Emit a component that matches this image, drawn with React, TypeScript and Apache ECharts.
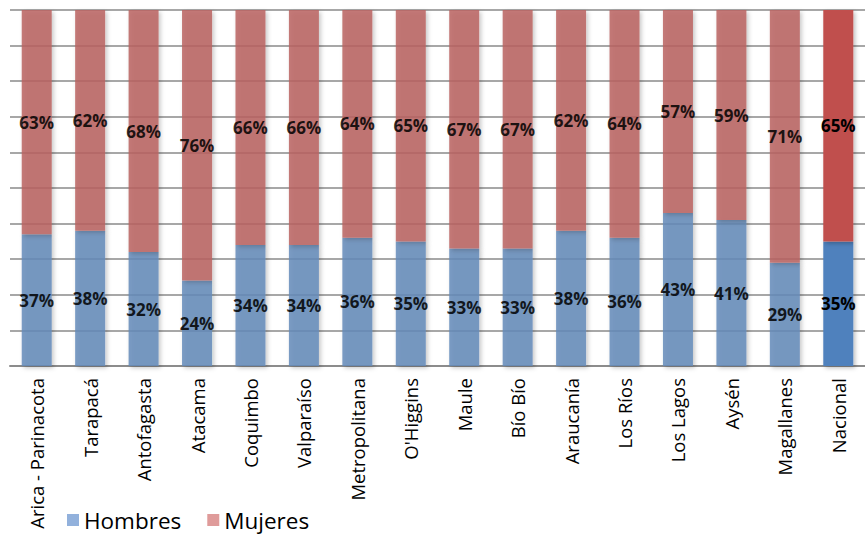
import React, { useEffect, useRef } from "react";
import * as echarts from "echarts";

const categories = [
  "Arica - Parinacota",
  "Tarapacá",
  "Antofagasta",
  "Atacama",
  "Coquimbo",
  "Valparaíso",
  "Metropolitana",
  "O'Higgins",
  "Maule",
  "Bío Bío",
  "Araucanía",
  "Los Ríos",
  "Los Lagos",
  "Aysén",
  "Magallanes",
  "Nacional",
];
const hombres = [37, 38, 32, 24, 34, 34, 36, 35, 33, 33, 38, 36, 43, 41, 29, 35];
const mujeres = [63, 62, 68, 76, 66, 66, 64, 65, 67, 67, 62, 64, 57, 59, 71, 65];

const HOMBRES_COLOR = "rgb(100,139,186)";
const MUJERES_COLOR = "rgb(186,99,96)";
const NAC_H = "#4f81bd";
const NAC_M = "#c0504d";

export default function App() {
  const ref = useRef<HTMLDivElement>(null);
  useEffect(() => {
    if (!ref.current) return;
    const chart = echarts.init(ref.current, null, { renderer: "svg" });
    const last = categories.length - 1;
    const mk = (vals: number[], nacColor: string) =>
      vals.map((v, i) =>
        i === last ? { value: v, itemStyle: { color: nacColor, opacity: 1 } } : v
      );
    const labelCfg = {
      show: true,
      position: "inside",
      formatter: "{c}%",
      color: "#000",
      fontFamily: "Open Sans",
      fontWeight: "bold",
      fontSize: 17,
    };
    const itemShadow = {
      shadowBlur: 4,
      shadowColor: "rgba(0,0,0,0.25)",
      shadowOffsetX: 2,
      shadowOffsetY: 2,
    };
    chart.setOption({
      animation: false,
      textStyle: { fontFamily: "Open Sans" },
      grid: { left: 10, top: 10, width: 867, bottom: 169, containLabel: false },
      legend: {
        left: 62,
        top: 502,
        itemWidth: 12,
        itemHeight: 12,
        itemGap: 26,
        icon: "rect",
        textStyle: { fontSize: 22.5, lineHeight: 26, color: "#000", fontFamily: "Open Sans" },
        data: [
          { name: "Hombres", itemStyle: { color: "#7fa3d6" } },
          { name: "Mujeres", itemStyle: { color: "#d98a88" } },
        ],
      },
      xAxis: {
        type: "category",
        data: categories,
        axisLine: { lineStyle: { color: "#8c8c8c", width: 2 } },
        axisTick: { show: false },
        axisLabel: {
          rotate: 90,
          interval: 0,
          margin: 12,
          fontSize: 18.5,
          color: "#000",
          fontFamily: "Open Sans",
        },
      },
      yAxis: {
        type: "value",
        min: 0,
        max: 100,
        interval: 10,
        axisLabel: { show: false },
        axisLine: { show: false },
        axisTick: { show: false },
        splitLine: { lineStyle: { color: "#8a8a8a", width: 1.5 } },
      },
      series: [
        {
          name: "Hombres",
          type: "bar",
          stack: "total",
          barWidth: 30,
          data: mk(hombres, NAC_H),
          itemStyle: { color: HOMBRES_COLOR, opacity: 0.85, ...itemShadow },
          label: labelCfg,
        },
        {
          name: "Mujeres",
          type: "bar",
          stack: "total",
          barWidth: 30,
          data: mk(mujeres, NAC_M),
          itemStyle: { color: MUJERES_COLOR, opacity: 0.85, ...itemShadow },
          label: labelCfg,
        },
      ],
    });
    return () => chart.dispose();
  }, []);
  return (
    <div
      ref={ref}
      style={{ position: "absolute", left: 0, top: 0, width: 865, height: 535 }}
    />
  );
}
